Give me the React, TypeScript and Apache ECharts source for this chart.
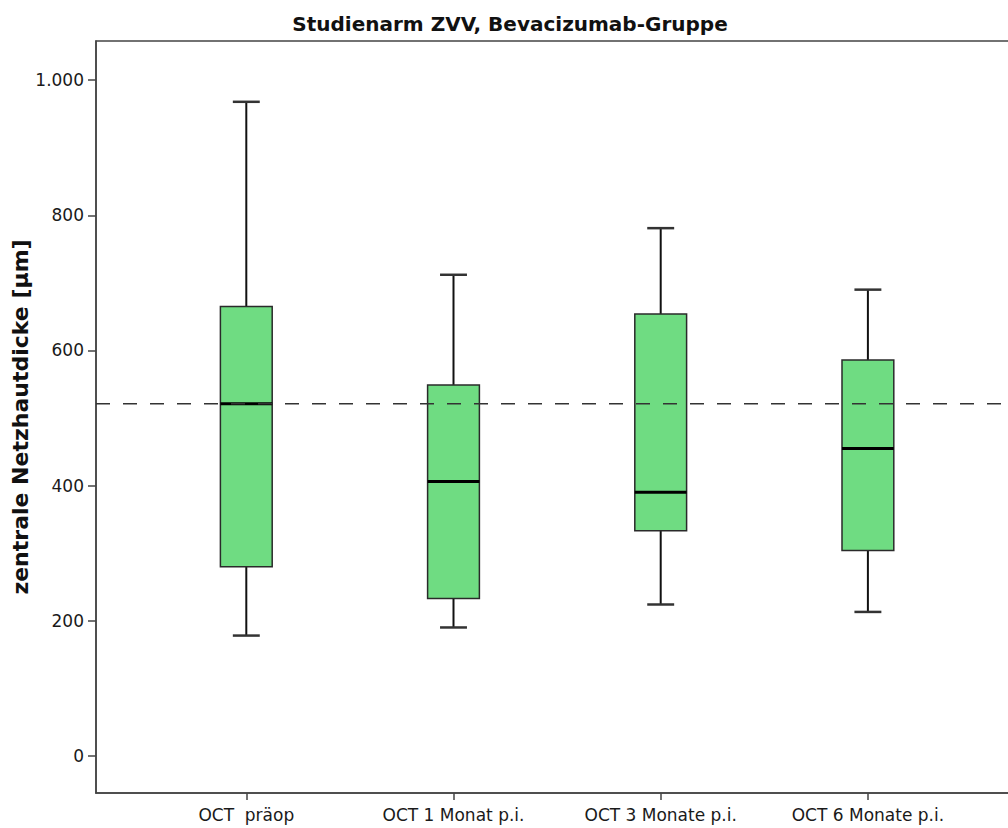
import React, { useEffect, useRef } from "react";
import * as echarts from "echarts";

const categories = ["OCT  präop", "OCT 1 Monat p.i.", "OCT 3 Monate p.i.", "OCT 6 Monate p.i."];
const whiskerLow = [178, 190, 224, 213];
const quartile1 = [280, 233, 333, 304];
const medians = [521, 406, 390, 455];
const quartile3 = [665, 549, 654, 586];
const whiskerHigh = [968, 712, 781, 690];
const referenceLine = 521;
const yTicks = [0, 200, 400, 600, 800, 1000];

const FONT = "DejaVu Sans";

export default function App() {
  const ref = useRef<HTMLDivElement>(null);

  useEffect(() => {
    if (!ref.current) return;
    const chart = echarts.init(ref.current, null, { renderer: "svg" });
    const boxData = categories.map((_, i) => [
      i,
      whiskerLow[i],
      quartile1[i],
      medians[i],
      quartile3[i],
      whiskerHigh[i],
    ]);

    const option: any = {
      animation: false,
      backgroundColor: "#ffffff",
      title: {
        text: "Studienarm ZVV, Bevacizumab-Gruppe",
        left: 505,
        textAlign: "center",
        top: 9,
        textStyle: { fontFamily: FONT, fontWeight: "bold", fontSize: 20, color: "#111" },
      },
      grid: [
        {
          left: 96,
          top: 41,
          width: 940,
          height: 752,
          show: true,
          containLabel: false,
          outerBoundsMode: "none",
          borderColor: "#444",
          borderWidth: 1.5,
          backgroundColor: "transparent",
        },
        {
          left: 142.7,
          top: 41,
          width: 828.8,
          height: 752,
          containLabel: false,
          outerBoundsMode: "none",
        },
      ],
      xAxis: [
        {
          type: "value",
          gridIndex: 0,
          min: 0,
          max: 1,
          position: "bottom",
          axisLine: { show: true, onZero: false, lineStyle: { color: "#444", width: 1.5 } },
          axisTick: { show: false },
          axisLabel: { show: false },
          splitLine: { show: false },
        },
        {
          type: "category",
          gridIndex: 1,
          data: categories,
          position: "bottom",
          boundaryGap: true,
          axisLine: { show: false, onZero: false },
          axisTick: {
            show: true,
            alignWithLabel: true,
            length: 7,
            lineStyle: { color: "#444", width: 1.5 },
          },
          axisLabel: {
            margin: 13,
            fontFamily: FONT,
            fontSize: 17,
            color: "#1a1a1a",
          },
        },
      ],
      yAxis: [
        {
          type: "value",
          gridIndex: 0,
          min: -55,
          max: 1058,
          name: "zentrale Netzhautdicke [µm]",
          nameLocation: "middle",
          nameGap: 65,
          nameMoveOverlap: false,
          nameRotate: 90,
          nameTextStyle: { fontFamily: FONT, fontWeight: "bold", fontSize: 22, color: "#111" },
          axisLine: { show: true, lineStyle: { color: "#444", width: 1.5 } },
          axisTick: {
            show: true,
            length: 8,
            customValues: yTicks,
            lineStyle: { color: "#444", width: 1.5 },
          },
          axisLabel: {
            customValues: yTicks,
            margin: 12,
            fontFamily: FONT,
            fontSize: 17,
            color: "#1a1a1a",
            formatter: (v: number) => (v >= 1000 ? "1.000" : String(v)),
          },
          splitLine: { show: false },
        },
        {
          type: "value",
          gridIndex: 1,
          min: -55,
          max: 1058,
          show: false,
          splitLine: { show: false },
        },
      ],
      series: [
        {
          type: "custom",
          xAxisIndex: 1,
          yAxisIndex: 1,
          data: boxData,
          z: 2,
          renderItem: (params: any, api: any) => {
            const idx = api.value(0);
            const lo = api.coord([idx, api.value(1)]);
            const q1 = api.coord([idx, api.value(2)]);
            const med = api.coord([idx, api.value(3)]);
            const q3 = api.coord([idx, api.value(4)]);
            const hi = api.coord([idx, api.value(5)]);
            const band = api.size([1, 0])[0];
            const bw = band * 0.25;
            const cw = bw * 0.52;
            const x = lo[0];
            const whiskerStyle = { stroke: "#111", lineWidth: 2 };
            const capStyle = { stroke: "#333", lineWidth: 2.5 };
            return {
              type: "group",
              children: [
                { type: "line", shape: { x1: x, y1: hi[1], x2: x, y2: q3[1] }, style: whiskerStyle },
                { type: "line", shape: { x1: x, y1: q1[1], x2: x, y2: lo[1] }, style: whiskerStyle },
                { type: "line", shape: { x1: x - cw / 2, y1: hi[1], x2: x + cw / 2, y2: hi[1] }, style: capStyle },
                { type: "line", shape: { x1: x - cw / 2, y1: lo[1], x2: x + cw / 2, y2: lo[1] }, style: capStyle },
                {
                  type: "rect",
                  shape: { x: x - bw / 2, y: q3[1], width: bw, height: q1[1] - q3[1] },
                  style: { fill: "#6fdc82", stroke: "#2a2a2a", lineWidth: 1.5 },
                },
                {
                  type: "line",
                  shape: { x1: x - bw / 2, y1: med[1], x2: x + bw / 2, y2: med[1] },
                  style: { stroke: "#000", lineWidth: 3 },
                },
              ],
            };
          },
        },
        {
          type: "line",
          xAxisIndex: 0,
          yAxisIndex: 0,
          data: [
            [0, referenceLine],
            [1, referenceLine],
          ],
          symbol: "none",
          silent: true,
          z: 5,
          lineStyle: { color: "#333", width: 1.5, type: [14, 13] },
        },
      ],
    };
    chart.setOption(option);
    return () => chart.dispose();
  }, []);

  return (
    <div
      style={{
        position: "fixed",
        left: 0,
        top: 0,
        width: 1008,
        height: 828,
        overflow: "hidden",
        background: "#fff",
      }}
    >
      <div ref={ref} style={{ width: 1040, height: 828 }} />
    </div>
  );
}
